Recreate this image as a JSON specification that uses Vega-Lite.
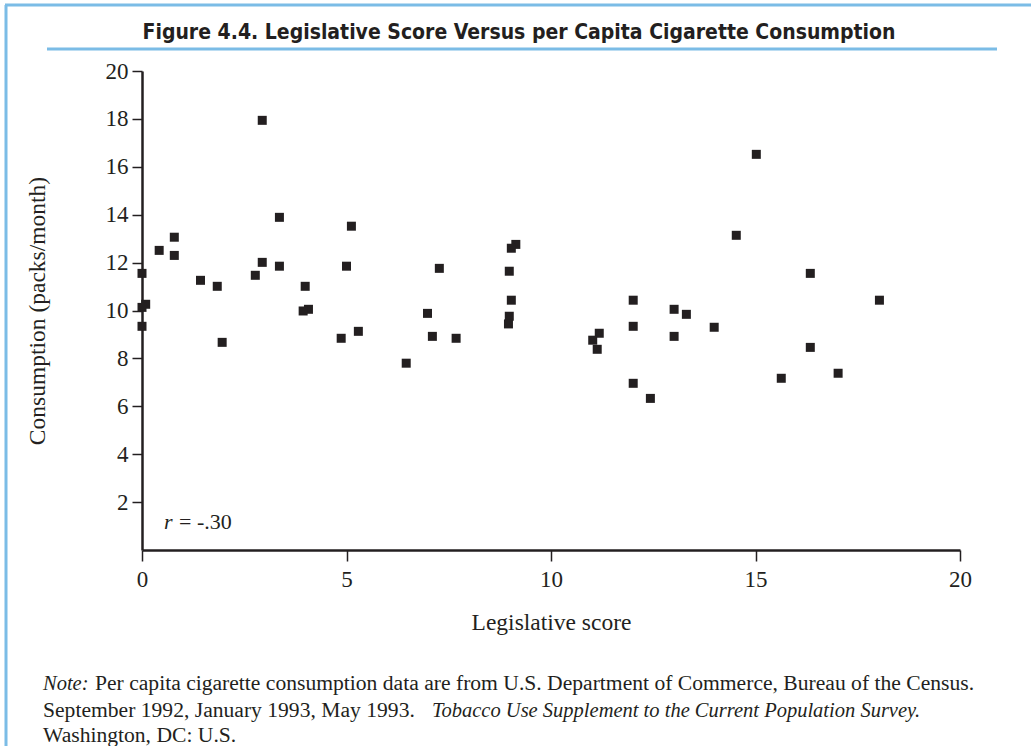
{
  "$schema": "https://vega.github.io/schema/vega-lite/v6.json",
  "width": 818,
  "height": 479,
  "autosize": "none",
  "padding": {"left": 142, "top": 71, "right": 71, "bottom": 196},
  "background": "#ffffff",
  "view": {"stroke": null},
  "config": {
    "axis": {
      "grid": false,
      "labelFlush": false,
      "domainColor": "#231f20",
      "domainWidth": 2.5,
      "tickColor": "#231f20",
      "tickWidth": 1.5,
      "labelFont": "Liberation Serif",
      "labelFontSize": 23,
      "labelColor": "#231f20",
      "titleFont": "Liberation Serif",
      "titleFontSize": 23.5,
      "titleFontWeight": "normal",
      "titleColor": "#231f20"
    }
  },
  "layer": [
    {
      "data": {
        "values": [
          {"score": 2.94, "consumption": 17.94},
          {"score": 3.36, "consumption": 13.89},
          {"score": 5.12, "consumption": 13.52},
          {"score": 0.79, "consumption": 13.06},
          {"score": 0.42, "consumption": 12.51},
          {"score": 0.79, "consumption": 12.30},
          {"score": 9.14, "consumption": 12.76},
          {"score": 9.03, "consumption": 12.60},
          {"score": 2.94, "consumption": 12.01},
          {"score": 3.36, "consumption": 11.85},
          {"score": 5.00, "consumption": 11.85},
          {"score": 7.27, "consumption": 11.76},
          {"score": 8.98, "consumption": 11.64},
          {"score": 0.00, "consumption": 11.55},
          {"score": 2.77, "consumption": 11.47},
          {"score": 1.43, "consumption": 11.26},
          {"score": 1.84, "consumption": 11.01},
          {"score": 3.99, "consumption": 11.01},
          {"score": 9.03, "consumption": 10.43},
          {"score": 0.09, "consumption": 10.26},
          {"score": 0.00, "consumption": 10.13},
          {"score": 4.07, "consumption": 10.05},
          {"score": 3.94, "consumption": 9.98},
          {"score": 6.98, "consumption": 9.88},
          {"score": 8.98, "consumption": 9.76},
          {"score": 8.96, "consumption": 9.44},
          {"score": 0.00, "consumption": 9.34},
          {"score": 5.29, "consumption": 9.13},
          {"score": 7.10, "consumption": 8.92},
          {"score": 4.87, "consumption": 8.84},
          {"score": 7.68, "consumption": 8.84},
          {"score": 1.96, "consumption": 8.67},
          {"score": 6.46, "consumption": 7.80},
          {"score": 15.02, "consumption": 16.52},
          {"score": 14.53, "consumption": 13.14},
          {"score": 16.34, "consumption": 11.55},
          {"score": 12.01, "consumption": 10.43},
          {"score": 18.03, "consumption": 10.43},
          {"score": 13.01, "consumption": 10.05},
          {"score": 13.31, "consumption": 9.84},
          {"score": 11.18, "consumption": 9.05},
          {"score": 11.02, "consumption": 8.76},
          {"score": 11.13, "consumption": 8.38},
          {"score": 12.01, "consumption": 9.34},
          {"score": 13.99, "consumption": 9.30},
          {"score": 13.01, "consumption": 8.92},
          {"score": 16.34, "consumption": 8.46},
          {"score": 12.01, "consumption": 6.96},
          {"score": 17.02, "consumption": 7.38},
          {"score": 15.63, "consumption": 7.17},
          {"score": 12.43, "consumption": 6.33}
        ]
      },
      "mark": {"type": "square", "size": 81, "color": "#231f20", "opacity": 1},
      "encoding": {
        "x": {
          "field": "score",
          "type": "quantitative",
          "scale": {"domain": [0, 20], "nice": false},
          "axis": {
            "title": "Legislative score",
            "values": [0, 5, 10, 15, 20],
            "tickSize": 11,
            "labelPadding": 7,
            "titlePadding": 19
          }
        },
        "y": {
          "field": "consumption",
          "type": "quantitative",
          "scale": {"domain": [0, 20], "nice": false},
          "axis": {
            "title": "Consumption (packs/month)",
            "values": [2, 4, 6, 8, 10, 12, 14, 16, 18, 20],
            "tickSize": 10,
            "labelPadding": 4,
            "titlePadding": 56
          }
        }
      }
    },
    {
      "data": {"values": [{}]},
      "mark": {"type": "text", "font": "DejaVu Sans Condensed", "fontWeight": "bold", "fontSize": 21, "color": "#231f20", "align": "center", "baseline": "alphabetic"},
      "encoding": {"x": {"value": 377}, "y": {"value": -32}, "text": {"value": "Figure 4.4. Legislative Score Versus per Capita Cigarette Consumption"}}
    },
    {
      "data": {"values": [{}]},
      "mark": {"type": "text", "font": "Liberation Serif", "fontStyle": "italic", "fontSize": 22, "color": "#231f20", "align": "left", "baseline": "middle"},
      "encoding": {"x": {"value": 22}, "y": {"value": 451}, "text": {"value": "r"}}
    },
    {
      "data": {"values": [{}]},
      "mark": {"type": "text", "font": "Liberation Serif", "fontSize": 22, "color": "#231f20", "align": "left", "baseline": "middle"},
      "encoding": {"x": {"value": 37}, "y": {"value": 451}, "text": {"value": "= -.30"}}
    },
    {
      "data": {"values": [{}]},
      "mark": {"type": "text", "font": "Liberation Serif", "fontStyle": "italic", "fontSize": 20.5, "color": "#231f20", "align": "left", "baseline": "middle"},
      "encoding": {"x": {"value": -99}, "y": {"value": 613}, "text": {"value": "Note:"}}
    },
    {
      "data": {"values": [{}]},
      "mark": {"type": "text", "font": "Liberation Serif", "fontSize": 21.6, "color": "#231f20", "align": "left", "baseline": "middle"},
      "encoding": {"x": {"value": -47}, "y": {"value": 613}, "text": {"value": "Per capita cigarette consumption data are from U.S. Department of Commerce, Bureau of the Census."}}
    },
    {
      "data": {"values": [{}]},
      "mark": {"type": "text", "font": "Liberation Serif", "fontSize": 21.6, "color": "#231f20", "align": "left", "baseline": "middle"},
      "encoding": {"x": {"value": -99}, "y": {"value": 640}, "text": {"value": "September 1992, January 1993, May 1993."}}
    },
    {
      "data": {"values": [{}]},
      "mark": {"type": "text", "font": "Liberation Serif", "fontStyle": "italic", "fontSize": 20.5, "color": "#231f20", "align": "left", "baseline": "middle"},
      "encoding": {"x": {"value": 290}, "y": {"value": 640}, "text": {"value": "Tobacco Use Supplement to the Current Population Survey."}}
    },
    {
      "data": {"values": [{}]},
      "mark": {"type": "text", "font": "Liberation Serif", "fontSize": 21.6, "color": "#231f20", "align": "left", "baseline": "middle"},
      "encoding": {"x": {"value": -99}, "y": {"value": 665}, "text": {"value": "Washington, DC: U.S."}}
    },
    {
      "data": {"values": [{}]},
      "mark": {"type": "rule", "color": "#7bbce6", "strokeWidth": 3},
      "encoding": {"x": {"value": -95}, "x2": {"value": 855}, "y": {"value": -22}}
    },
    {
      "data": {"values": [{}]},
      "mark": {"type": "rule", "color": "#7bbce6", "strokeWidth": 3},
      "encoding": {"x": {"value": -137}, "x2": {"value": 889}, "y": {"value": -66}}
    },
    {
      "data": {"values": [{}]},
      "mark": {"type": "rule", "color": "#7bbce6", "strokeWidth": 3},
      "encoding": {"x": {"value": -136}, "y": {"value": -66}, "y2": {"value": 675}}
    }
  ]
}
